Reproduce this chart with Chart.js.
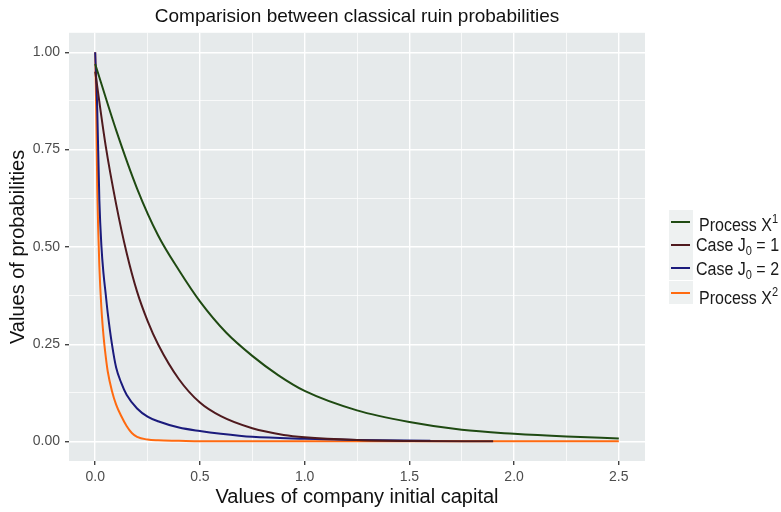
<!DOCTYPE html>
<html>
<head>
<meta charset="utf-8">
<script src="https://cdn.jsdelivr.net/npm/chart.js@4.4.1/dist/chart.umd.min.js"></script>
<style>
  body { margin: 0; background: #ffffff; }
  #wrap { position: relative; width: 781px; height: 512px; overflow: hidden; font-family: "Liberation Sans", Arial, sans-serif; }
  .key { position: absolute; left: 669px; width: 24px; background: #eef1f1; }
  .key span { position: absolute; left: 2px; width: 19px; height: 2px; }
  .lab { position: absolute; font-size: 16px; line-height: 18px; color: #1a1a1a; white-space: nowrap; transform: scale(1, 1.15); transform-origin: left center; }
  .lab sup { font-size: 11px; vertical-align: 7px; line-height: 0; }
  .lab sub { font-size: 11px; vertical-align: -4px; line-height: 0; }
</style>
</head>
<body>
<div id="wrap">
  <canvas id="myChart" width="781" height="512"></canvas>
  <div class="key" style="top:210px;height:23px"><span style="top:11px;background:#1f4a12"></span></div>
  <div class="key" style="top:233px;height:24px"><span style="top:11px;background:#4f1a1e"></span></div>
  <div class="key" style="top:257px;height:23px"><span style="top:10px;background:#1b1b7c"></span></div>
  <div class="key" style="top:281px;height:23px"><span style="top:11px;background:#ff6a10"></span></div>
  <div class="lab" style="left:699px;top:216px">Process X<sup>1</sup></div>
  <div class="lab" style="left:696px;top:236px">Case J<sub>0</sub> = 1</div>
  <div class="lab" style="left:696px;top:260px">Case J<sub>0</sub> = 2</div>
  <div class="lab" style="left:699px;top:289px">Process X<sup>2</sup></div>
</div>
<script>
// values
var seriesNames = ["Process X1", "Case J0 = 1", "Case J0 = 2", "Process X2"];

var xProcess1 = [0, 0.1, 0.2, 0.3, 0.4, 0.5, 0.625, 0.75, 0.875, 1.0, 1.25, 1.5, 1.75, 2.0, 2.25, 2.5];
var yProcess1 = [0.97, 0.80, 0.65, 0.53, 0.44, 0.36, 0.28, 0.22, 0.17, 0.13, 0.08, 0.05, 0.03, 0.02, 0.013, 0.008];

var xCase1 = [0, 0.05, 0.1, 0.15, 0.2, 0.25, 0.3, 0.4, 0.5, 0.6, 0.75, 0.9, 1.0, 1.25, 1.5, 1.9];
var yCase1 = [0.95, 0.76, 0.61, 0.485, 0.385, 0.31, 0.25, 0.16, 0.10, 0.065, 0.034, 0.017, 0.011, 0.004, 0.0015, 0.0005];

var xCase2 = [0, 0.01, 0.02, 0.03, 0.04, 0.05, 0.06, 0.08, 0.1, 0.125, 0.15, 0.2, 0.25, 0.3, 0.4, 0.5, 0.6, 0.75, 1.0, 1.25, 1.6];
var yCase2 = [1.0, 0.85, 0.62, 0.50, 0.43, 0.38, 0.33, 0.25, 0.19, 0.15, 0.12, 0.085, 0.064, 0.052, 0.036, 0.027, 0.02, 0.012, 0.007, 0.004, 0.002];

var xProcess2 = [0, 0.005, 0.01, 0.02, 0.03, 0.04, 0.05, 0.06, 0.08, 0.1, 0.125, 0.15, 0.175, 0.2, 0.25, 0.3, 0.4, 0.5, 1.0, 1.5, 2.0, 2.5];
var yProcess2 = [1.0, 0.85, 0.65, 0.45, 0.34, 0.27, 0.22, 0.18, 0.13, 0.095, 0.065, 0.04, 0.022, 0.012, 0.005, 0.003, 0.002, 0.001, 0.001, 0.001, 0.001, 0.001];

var xGridValues = [0, 0.25, 0.5, 0.75, 1.0, 1.25, 1.5, 1.75, 2.0, 2.25, 2.5];
var yGridValues = [0, 0.125, 0.25, 0.375, 0.5, 0.625, 0.75, 0.875, 1.0];

var lineColors = ["#1f4a12", "#4f1a1e", "#1b1b7c", "#ff6a10"];

function toPoints(xs, ys) {
  return xs.map(function (x, i) { return { x: x, y: ys[i] }; });
}

function isMajor(v, step) {
  var r = v / step;
  return Math.abs(r - Math.round(r)) < 1e-9;
}

var panelBg = {
  id: "panelBg",
  beforeDraw: function (chart) {
    var a = chart.chartArea;
    var c = chart.ctx;
    c.save();
    c.fillStyle = "#e6eaeb";
    c.fillRect(a.left, a.top, a.right - a.left, a.bottom - a.top);
    c.restore();
  }
};

document.addEventListener("DOMContentLoaded", function () {
  var ctx = document.getElementById("myChart").getContext("2d");
  var allX = [xProcess1, xCase1, xCase2, xProcess2];
  var allY = [yProcess1, yCase1, yCase2, yProcess2];

  var datasets = seriesNames.map(function (name, i) {
    return {
      label: name,
      data: toPoints(allX[i], allY[i]),
      borderColor: lineColors[i],
      backgroundColor: lineColors[i],
      borderWidth: 2,
      pointRadius: 0,
      cubicInterpolationMode: "monotone",
      fill: false
    };
  });

  window.myChart = new Chart(ctx, {
    type: "line",
    data: { datasets: datasets },
    plugins: [panelBg],
    options: {
      responsive: false,
      animation: false,
      layout: { padding: { top: 0, right: 136, bottom: 0, left: 0 } },
      plugins: {
        legend: { display: false },
        tooltip: { enabled: false },
        title: {
          display: true,
          text: "Comparision between classical ruin probabilities",
          fullSize: false,
          color: "#111111",
          font: { family: "Liberation Sans", size: 19, weight: "normal" },
          padding: { top: 5, bottom: 5 }
        }
      },
      scales: {
        x: {
          type: "linear",
          min: -0.125,
          max: 2.625,
          afterFit: function (scale) { scale.height = 51; },
          afterBuildTicks: function (scale) {
            scale.ticks = xGridValues.map(function (v) { return { value: v }; });
          },
          ticks: {
            autoSkip: false,
            maxRotation: 0,
            padding: 4,
            color: "#4d4d4d",
            font: { family: "Liberation Sans", size: 14 },
            callback: function (v) { return isMajor(v, 0.5) ? v.toFixed(1) : ""; }
          },
          grid: {
            color: "#ffffff",
            lineWidth: function (c) { return isMajor(c.tick.value, 0.5) ? 1.4 : 0.7; },
            tickColor: function (c) { return isMajor(c.tick.value, 0.5) ? "#444444" : "rgba(0,0,0,0)"; },
            tickLength: 4
          },
          border: { display: false },
          title: {
            display: true,
            text: "Values of company initial capital",
            color: "#111111",
            font: { family: "Liberation Sans", size: 20 },
            padding: { top: 0, bottom: 3 }
          }
        },
        y: {
          type: "linear",
          min: -0.05,
          max: 1.05,
          afterFit: function (scale) { scale.width = 69; },
          afterBuildTicks: function (scale) {
            scale.ticks = yGridValues.map(function (v) { return { value: v }; });
          },
          ticks: {
            autoSkip: false,
            padding: 5,
            color: "#4d4d4d",
            font: { family: "Liberation Sans", size: 14 },
            callback: function (v) { return isMajor(v, 0.25) ? v.toFixed(2) : ""; }
          },
          grid: {
            color: "#ffffff",
            lineWidth: function (c) { return isMajor(c.tick.value, 0.25) ? 1.4 : 0.7; },
            tickColor: function (c) { return isMajor(c.tick.value, 0.25) ? "#444444" : "rgba(0,0,0,0)"; },
            tickLength: 4
          },
          border: { display: false },
          title: {
            display: true,
            text: "Values of probabilities",
            color: "#111111",
            font: { family: "Liberation Sans", size: 20 },
            padding: { top: 6, bottom: 0 }
          }
        }
      }
    }
  });
});
</script>
</body>
</html>
